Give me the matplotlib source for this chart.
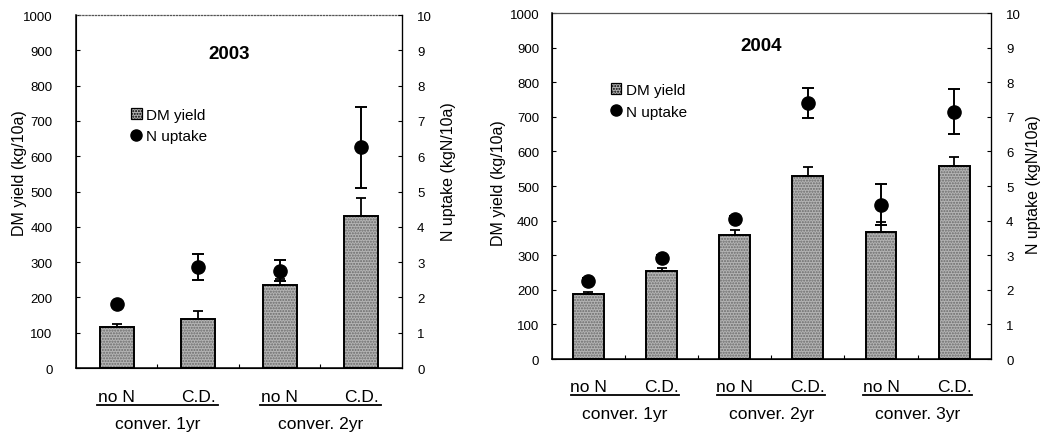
import matplotlib
matplotlib.use("Agg")
import matplotlib.pyplot as plt
import matplotlib.transforms as mtransforms
from matplotlib.patches import Patch
from matplotlib.lines import Line2D

plt.rcParams['font.family'] = ['Liberation Sans', 'DejaVu Sans']
plt.rcParams['hatch.linewidth'] = 1.0

# treatment / group labels
treatments = ['no N', 'C.D.']
groups_2003 = ['conver. 1yr', 'conver. 2yr']
groups_2004 = ['conver. 1yr', 'conver. 2yr', 'conver. 3yr']

# 2003 values
dm_2003 = [116, 138, 234, 432]
dm_err_2003 = [9, 23, 19, 49]
nup_2003 = [1.80, 2.86, 2.76, 6.25]
nup_err_2003 = [0.05, 0.37, 0.29, 1.15]

# 2004 values
dm_2004 = [189, 255, 359, 529, 367, 559]
dm_err_2004 = [6, 7, 15, 26, 28, 25]
nup_2004 = [2.25, 2.92, 4.04, 7.40, 4.46, 7.15]
nup_err_2004 = [0.08, 0.08, 0.08, 0.44, 0.60, 0.64]

BAR_FACE = '#b4b4b4'
BAR_W = 0.42


def draw_panel(fig, rect, year, dm, dm_err, nup, nup_err, groups,
               title_xy, leg_xy, ylab_left, ylab_right, left_pad, top_ls):
    ax = fig.add_axes(rect)
    n = len(dm)
    x = list(range(1, n + 1))

    # stippled bars: hatch layer then black outline
    ax.bar(x, dm, width=BAR_W, color=BAR_FACE, hatch='......',
           edgecolor='#6a6a6a', linewidth=0, zorder=2)
    ax.bar(x, dm, width=BAR_W, fill=False, edgecolor='black',
           linewidth=1.4, zorder=3)
    ax.errorbar(x, dm, yerr=[[0] * n, dm_err], fmt='none', ecolor='black',
                elinewidth=1.3, capsize=3.5, capthick=1.3, zorder=4)

    ax.set_xlim(0.5, n + 0.5)
    ax.set_ylim(0, 1000)
    ax.set_yticks(range(0, 1001, 100))
    ax.set_xticks([i + 0.5 for i in range(1, n)])
    ax.set_xticklabels([])
    ax.tick_params(axis='x', direction='in', length=3, width=0.8)
    ax.tick_params(axis='y', direction='in', length=3, width=0.8,
                   labelsize=9.5, pad=left_pad)
    ax.set_ylabel('DM yield (kg/10a)', fontsize=11.5)
    ax.yaxis.set_label_coords(*ylab_left)

    for s in ['left', 'bottom']:
        ax.spines[s].set_linewidth(1.1)
    ax.spines['top'].set_color('#555555')
    ax.spines['top'].set_linewidth(0.9)
    ax.spines['top'].set_linestyle(top_ls)
    ax.spines['right'].set_linewidth(0.9)

    ax2 = ax.twinx()
    ax2.errorbar(x, nup, yerr=nup_err, fmt='o', color='black',
                 markersize=9.5, elinewidth=1.4, capsize=4, capthick=1.4,
                 zorder=5)
    ax2.set_ylim(0, 10)
    ax2.set_yticks(range(0, 11))
    ax2.tick_params(axis='y', direction='in', length=3, width=0.8,
                    labelsize=9.5, pad=11)
    ax2.set_ylabel('N uptake (kgN/10a)', fontsize=11.5)
    ax2.yaxis.set_label_coords(*ylab_right)
    ax2.spines['top'].set_visible(False)

    ax.text(title_xy[0], title_xy[1], year, transform=ax.transAxes,
            fontsize=13.5, fontweight='bold', ha='center', va='center')

    handles = [Patch(facecolor=BAR_FACE, edgecolor='black', hatch='......',
                     linewidth=0.9),
               Line2D([], [], marker='o', color='black', linestyle='none',
                      markersize=8)]
    ax2.legend(handles, ['DM yield', 'N uptake'], loc='upper left',
               bbox_to_anchor=leg_xy, frameon=False, fontsize=11,
               handlelength=0.7, handleheight=0.7, handletextpad=0.3,
               labelspacing=0.5, borderaxespad=0)

    # category labels under the axis
    trans = mtransforms.blended_transform_factory(ax.transData, ax.transAxes)
    for i, xi in enumerate(x):
        ax.text(xi, -0.08, treatments[i % 2], transform=trans, ha='center',
                va='center', fontsize=12.5)
    for g, name in enumerate(groups):
        x0 = x[2 * g] - BAR_W / 2 - 0.03
        x1 = x[2 * g + 1] + BAR_W / 2 + 0.03
        ax.plot([x0, x1], [-0.105, -0.105], transform=trans, color='black',
                linewidth=1.3, clip_on=False)
        ax.text((x[2 * g] + x[2 * g + 1]) / 2, -0.158, name, transform=trans,
                ha='center', va='center', fontsize=12.5)
    return ax, ax2


fig = plt.figure(figsize=(10.51, 4.35), dpi=100)

draw_panel(fig, [0.0723, 0.1517, 0.310, 0.8115], '2003',
           dm_2003, dm_err_2003, nup_2003, nup_err_2003, groups_2003,
           title_xy=(0.47, 0.89), leg_xy=(0.15, 0.755),
           ylab_left=(-0.15, 0.555), ylab_right=(1.12, 0.558),
           left_pad=17, top_ls=(0, (1, 1.5)))

draw_panel(fig, [0.525, 0.1724, 0.4177, 0.7954], '2004',
           dm_2004, dm_err_2004, nup_2004, nup_err_2004, groups_2004,
           title_xy=(0.478, 0.905), leg_xy=(0.12, 0.815),
           ylab_left=(-0.105, 0.51), ylab_right=(1.08, 0.506),
           left_pad=9, top_ls='-')

fig.savefig('out.png', dpi=100)
